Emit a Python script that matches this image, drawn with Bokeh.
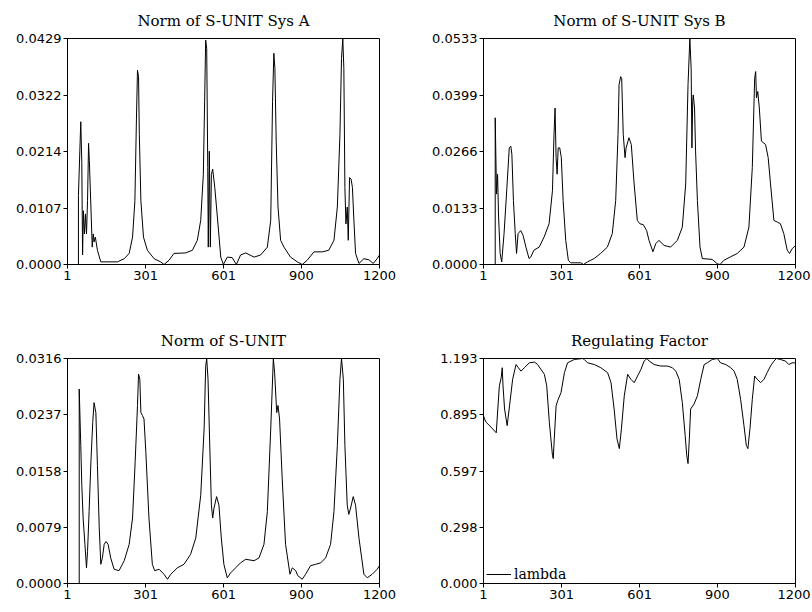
from bokeh.plotting import figure
from bokeh.layouts import column, row
from bokeh.models import Range1d, FixedTicker
from bokeh.embed import file_html
from bokeh.resources import INLINE

# ---------------- data ----------------
x_ticks = [1, 301, 601, 900, 1200]
x_tick_labels = ["1", "301", "601", "900", "1200"]

titles = ["Norm of S-UNIT Sys A", "Norm of S-UNIT Sys B", "Norm of S-UNIT", "Regulating Factor"]

ymax_a = 0.0429
ymax_b = 0.0533
ymax_s = 0.0316
ymax_r = 1.193

ylabels_a = ["0.0000", "0.0107", "0.0214", "0.0322", "0.0429"]
ylabels_b = ["0.0000", "0.0133", "0.0266", "0.0399", "0.0533"]
ylabels_s = ["0.0000", "0.0079", "0.0158", "0.0237", "0.0316"]
ylabels_r = ["0.000", "0.298", "0.597", "0.895", "1.193"]

xa = [43, 43, 52, 56, 59, 62, 66, 70, 74, 78, 82, 85, 91, 96, 100, 103, 108, 116, 129, 193,
      219, 238, 251, 260, 266, 270, 274, 277, 283, 293, 308, 334, 359, 372, 391, 410, 455, 481,
      500, 513, 523, 528, 532, 536, 540, 542, 546, 550, 554, 559, 567, 577, 590, 600, 615, 634,
      650, 666, 686, 718, 743, 769, 782, 789, 794, 798, 803, 810, 820, 833, 858, 884, 903, 922,
      948, 980, 1005, 1025, 1038, 1048, 1054, 1059, 1063, 1067, 1071, 1076, 1080, 1085, 1091,
      1096, 1101, 1108, 1121, 1140, 1159, 1176, 1191, 1200]
ya = [0.0, 0.0131, 0.0271, 0.0193, 0.0018, 0.0102, 0.0058, 0.0096, 0.0058, 0.0121, 0.0230,
      0.0197, 0.0109, 0.0033, 0.0058, 0.0043, 0.0052, 0.0027, 0.0005, 0.0005, 0.0011, 0.0021,
      0.0052, 0.0121, 0.0278, 0.0369, 0.0357, 0.0247, 0.0121, 0.0052, 0.0027, 0.0011, 0.0005,
      0.0, 0.0008, 0.0021, 0.0022, 0.0027, 0.0046, 0.0084, 0.0171, 0.0310, 0.0426, 0.0410,
      0.0184, 0.0033, 0.0215, 0.0033, 0.0171, 0.0181, 0.0146, 0.0090, 0.0014, 0.0, 0.0014,
      0.0013, 0.0, 0.0018, 0.0022, 0.0014, 0.0018, 0.0033, 0.0084, 0.0310, 0.0401, 0.0372,
      0.0234, 0.0109, 0.0046, 0.0033, 0.0014, 0.0005, 0.0, 0.0008, 0.0024, 0.0024, 0.0027,
      0.0046, 0.0109, 0.0247, 0.0391, 0.0429, 0.0372, 0.0146, 0.0077, 0.0109, 0.0046, 0.0165,
      0.0162, 0.0146, 0.0090, 0.0021, 0.0002, 0.0011, 0.0009, 0.0002, 0.0011, 0.0018]

xb = [46, 46, 51, 55, 59, 65, 71, 80, 91, 100, 106, 110, 116, 123, 128, 134, 144, 153, 164,
      176, 183, 195, 215, 234, 253, 266, 272, 276, 280, 284, 288, 294, 300, 307, 317, 327, 336,
      375, 385, 400, 426, 451, 477, 496, 509, 518, 522, 528, 532, 538, 545, 549, 560, 569, 579,
      592, 602, 615, 628, 637, 652, 663, 675, 695, 720, 746, 765, 778, 787, 794, 799, 802, 805,
      807, 812, 816, 823, 833, 842, 880, 899, 910, 925, 950, 976, 1002, 1021, 1034, 1043, 1047,
      1050, 1055, 1061, 1069, 1085, 1095, 1104, 1117, 1130, 1142, 1155, 1168, 1177, 1187, 1200]
yb = [0.0, 0.0346, 0.0166, 0.0213, 0.0112, 0.0026, 0.0006, 0.0073, 0.0182, 0.0275, 0.0279,
      0.0260, 0.0151, 0.0073, 0.0026, 0.0073, 0.0080, 0.0069, 0.0041, 0.0014, 0.0018, 0.0034,
      0.0041, 0.0065, 0.0096, 0.0174, 0.0307, 0.0369, 0.0252, 0.0213, 0.0275, 0.0275, 0.0252,
      0.0151, 0.0057, 0.0010, 0.0004, 0.0004, 0.0, 0.0006, 0.0014, 0.0026, 0.0041, 0.0073,
      0.0151, 0.0307, 0.0424, 0.0443, 0.0439, 0.0307, 0.0252, 0.0275, 0.0299, 0.0283, 0.0197,
      0.0104, 0.0096, 0.0094, 0.0080, 0.0057, 0.0030, 0.0049, 0.0057, 0.0045, 0.0041, 0.0057,
      0.0088, 0.0190, 0.0424, 0.0533, 0.0463, 0.0275, 0.0385, 0.0400, 0.0369, 0.0268, 0.0151,
      0.0041, 0.0014, 0.0012, 0.0002, 0.0, 0.0010, 0.0018, 0.0026, 0.0041, 0.0088, 0.0229,
      0.0439, 0.0455, 0.0393, 0.0408, 0.0369, 0.0291, 0.0283, 0.0252, 0.0190, 0.0104, 0.0100,
      0.0096, 0.0073, 0.0034, 0.0026, 0.0037, 0.0045]

xs = [46, 46, 52, 56, 61, 68, 74, 78, 84, 91, 98, 103, 110, 116, 123, 129, 135, 142, 149, 157,
      167, 180, 199, 219, 238, 251, 261, 270, 274, 279, 283, 289, 295, 302, 314, 327, 336, 353,
      372, 385, 398, 423, 449, 474, 494, 513, 526, 532, 536, 541, 547, 554, 559, 564, 574, 583,
      592, 602, 615, 628, 647, 666, 686, 718, 737, 756, 769, 782, 792, 797, 805, 810, 816, 826,
      839, 856, 865, 878, 886, 903, 916, 935, 955, 974, 993, 1012, 1025, 1038, 1048, 1054, 1061,
      1067, 1076, 1082, 1089, 1099, 1108, 1121, 1140, 1153, 1172, 1191, 1200]
ys = [0.0, 0.0273, 0.0194, 0.0138, 0.0092, 0.0055, 0.0022, 0.0045, 0.0101, 0.0171, 0.0226,
      0.0254, 0.0240, 0.0166, 0.0078, 0.0027, 0.0036, 0.0055, 0.0059, 0.0055, 0.0036, 0.0020,
      0.0018, 0.0032, 0.0055, 0.0092, 0.0171, 0.0250, 0.0294, 0.0287, 0.0240, 0.0236, 0.0231,
      0.0185, 0.0092, 0.0027, 0.0018, 0.0020, 0.0013, 0.0006, 0.0013, 0.0022, 0.0027, 0.0041,
      0.0064, 0.0124, 0.0217, 0.0305, 0.0316, 0.0287, 0.0203, 0.0110, 0.0092, 0.0106, 0.0122,
      0.0110, 0.0064, 0.0027, 0.0008, 0.0015, 0.0022, 0.0029, 0.0034, 0.0032, 0.0036, 0.0055,
      0.0101, 0.0217, 0.0316, 0.0296, 0.0240, 0.0250, 0.0231, 0.0148, 0.0055, 0.0013, 0.0022,
      0.0018, 0.0011, 0.0006, 0.0013, 0.0025, 0.0027, 0.0029, 0.0036, 0.0055, 0.0101, 0.0194,
      0.0287, 0.0316, 0.0287, 0.0194, 0.0110, 0.0097, 0.0106, 0.0122, 0.0110, 0.0064, 0.0013,
      0.0008, 0.0013, 0.0020, 0.0025]

xr = [1, 5, 11, 30, 50, 56, 62, 69, 73, 76, 82, 92, 101, 113, 126, 135, 145, 158, 177, 197,
      209, 222, 235, 244, 254, 260, 266, 269, 273, 280, 286, 299, 312, 324, 337, 350, 382, 388,
      401, 427, 452, 478, 491, 503, 514, 523, 531, 542, 555, 567, 580, 593, 606, 618, 629, 638,
      657, 682, 708, 727, 740, 753, 765, 776, 782, 787, 792, 797, 810, 823, 836, 849, 861, 880,
      900, 912, 932, 951, 964, 976, 989, 1002, 1011, 1017, 1025, 1034, 1043, 1053, 1066, 1079,
      1091, 1104, 1117, 1127, 1142, 1162, 1174, 1187, 1200]
yr = [0.890, 0.872, 0.855, 0.829, 0.799, 0.925, 1.048, 1.091, 1.144, 1.048, 0.925, 0.837,
      0.942, 1.083, 1.161, 1.144, 1.126, 1.144, 1.170, 1.174, 1.161, 1.135, 1.109, 1.048, 0.855,
      0.767, 0.680, 0.662, 0.767, 0.942, 0.969, 1.013, 1.118, 1.170, 1.179, 1.188, 1.193, 1.188,
      1.170, 1.161, 1.144, 1.118, 1.065, 0.925, 0.767, 0.715, 0.820, 0.995, 1.109, 1.083, 1.065,
      1.100, 1.135, 1.179, 1.193, 1.179, 1.161, 1.153, 1.153, 1.144, 1.126, 1.083, 0.960, 0.785,
      0.680, 0.636, 0.767, 0.925, 0.951, 0.995, 1.083, 1.161, 1.170, 1.188, 1.193, 1.170, 1.161,
      1.144, 1.126, 1.083, 0.977, 0.837, 0.732, 0.715, 0.820, 0.977, 1.100, 1.083, 1.065, 1.083,
      1.118, 1.153, 1.179, 1.193, 1.188, 1.179, 1.161, 1.170, 1.170]

legend_label = "lambda"

# ---------------- styling ----------------
TICK_FONT = "DejaVu Sans"
TITLE_FONT = "DejaVu Serif"
FRAME_H = 228


def make_plot(title, xv, yv, ymax, ylabels, width, height, mb_left, mb_right, mb_top,
              mb_bottom, legend=None):
    p = figure(width=width, height=height, output_backend="svg", toolbar_location=None,
               x_range=Range1d(1, 1200), y_range=Range1d(0, ymax),
               min_border_left=mb_left, min_border_right=mb_right,
               min_border_top=mb_top, min_border_bottom=mb_bottom)
    p.title.text = title
    p.title.align = "center"
    p.title.text_font = TITLE_FONT
    p.title.text_font_style = "normal"
    p.title.text_font_size = "15px"
    p.title.text_color = "black"
    p.title.standoff = 18

    if legend:
        p.line(xv, yv, line_color="black", line_width=1, legend_label=legend)
    else:
        p.line(xv, yv, line_color="black", line_width=1)

    yticks = [ymax * i / 4 for i in range(5)]
    p.yaxis.ticker = FixedTicker(ticks=yticks)
    p.yaxis.major_label_overrides = {t: lab for t, lab in zip(yticks, ylabels)}
    p.xaxis.ticker = FixedTicker(ticks=x_ticks)
    p.xaxis.major_label_overrides = {t: lab for t, lab in zip(x_ticks, x_tick_labels)}
    for ax in (p.xaxis, p.yaxis):
        ax.major_label_text_font = TICK_FONT
        ax.major_label_text_font_size = "13px"
        ax.major_label_text_color = "black"
        ax.major_tick_out = 4
        ax.major_tick_in = 0
        ax.minor_tick_line_color = None
        ax.axis_line_color = "black"
        ax.major_tick_line_color = "black"
        ax.major_label_standoff = 2

    p.xgrid.grid_line_color = None
    p.ygrid.grid_line_color = None
    p.outline_line_color = "black"
    p.outline_line_alpha = 1
    p.outline_line_width = 1
    p.background_fill_color = "white"
    p.border_fill_color = "white"

    if legend:
        lg = p.legend[0]
        lg.location = (3, 1)
        lg.padding = 0
        lg.margin = 0
        lg.spacing = 0
        lg.label_height = 16
        lg.glyph_height = 16
        lg.glyph_width = 25
        lg.label_standoff = 3
        lg.label_text_font = TITLE_FONT
        lg.label_text_font_size = "14px"
        lg.label_text_color = "black"
        lg.background_fill_alpha = 0
        lg.border_line_alpha = 0
    return p


p1 = make_plot(titles[0], xa, ya, ymax_a, ylabels_a, 424, 320, 67, 45, 36, 320 - 36 - FRAME_H)
p2 = make_plot(titles[1], xb, yb, ymax_b, ylabels_b, 386, 320, 59, 15, 36, 320 - 36 - FRAME_H)
p3 = make_plot(titles[2], xs, ys, ymax_s, ylabels_s, 424, 287, 67, 45, 35, 24)
p4 = make_plot(titles[3], xr, yr, ymax_r, ylabels_r, 386, 287, 59, 15, 35, 24,
               legend=legend_label)

layout = column(row(p1, p2), row(p3, p4))

open("out.html", "w").write(file_html(layout, INLINE))
